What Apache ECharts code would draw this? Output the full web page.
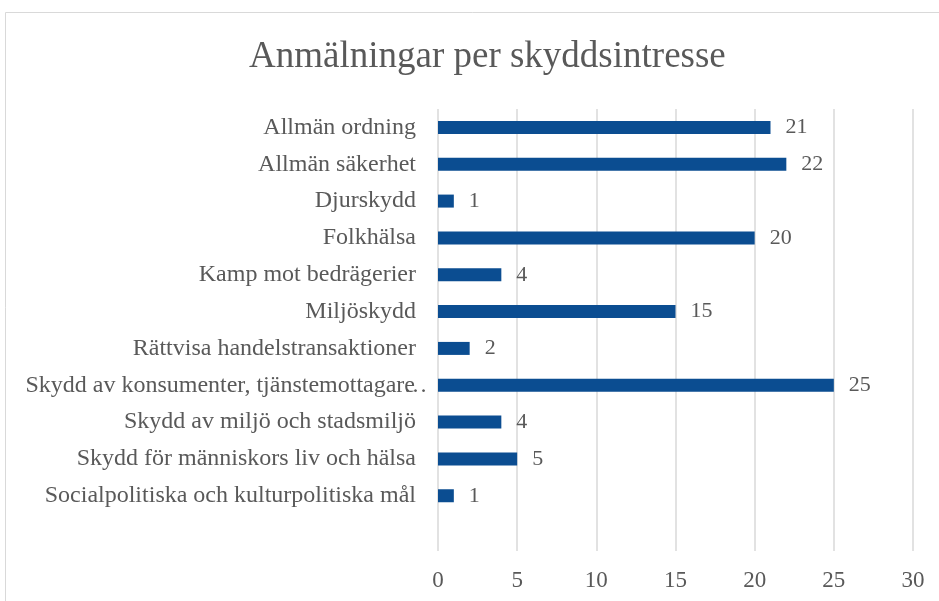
<!DOCTYPE html>
<html>
<head>
<meta charset="utf-8">
<script src="https://cdn.jsdelivr.net/npm/echarts@6/dist/echarts.min.js"></script>
<style>
  html, body { margin: 0; padding: 0; background: #fff; }
  #chart { width: 939px; height: 601px; }
</style>
</head>
<body>
<div id="chart"></div>
<script>
// categories, top to bottom (the last slot is empty in the original)
const categories = [
  'Allmän ordning',
  'Allmän säkerhet',
  'Djurskydd',
  'Folkhälsa',
  'Kamp mot bedrägerier',
  'Miljöskydd',
  'Rättvisa handelstransaktioner',
  'Skydd av konsumenter, tjänstemottagare…',
  'Skydd av miljö och stadsmiljö',
  'Skydd för människors liv och hälsa',
  'Socialpolitiska och kulturpolitiska mål',
  ''
]
const counts = [21, 22, 1, 20, 4, 15, 2, 25, 4, 5, 1, null]
const xTicks = [0, 5, 10, 15, 20, 25, 30]

const font = '"Liberation Serif", "Times New Roman", serif'
const chart = echarts.init(document.getElementById('chart'))

const labelText = { fontFamily: font, fontSize: 24, color: '#595959' }

const option = {
  animation: false,
  backgroundColor: '#fff',
  textStyle: { fontFamily: font },
  title: {
    text: 'Anmälningar per skyddsintresse',
    left: 244,
    top: 34,
    textStyle: { fontFamily: font, fontSize: 37, fontWeight: 'normal', color: '#595959' }
  },
  graphic: [{
    type: 'rect',
    shape: { x: 5.5, y: 12.5, width: 1000, height: 700 },
    style: { fill: 'none', stroke: '#d9d9d9', lineWidth: 1 },
    silent: true
  }],
  grid: { left: 438, right: 26, top: 109, bottom: 50 },
  xAxis: {
    type: 'value',
    min: xTicks[0],
    max: xTicks[xTicks.length - 1],
    interval: 5,
    axisLine: { show: false },
    axisTick: { show: false },
    splitLine: { lineStyle: { color: '#d9d9d9', width: 1.5 } },
    axisLabel: { fontFamily: font, fontSize: 23, color: '#595959', margin: 18 }
  },
  yAxis: {
    type: 'category',
    data: categories,
    inverse: true,
    axisLine: { show: false },
    axisTick: { show: false },
    axisLabel: {
      ...labelText,
      margin: 22,
      // truncated label: let the ellipsis spill past the label edge like Excel does
      formatter: (v) => v.endsWith('…') ? '{a|' + v.slice(0, -1) + '}{e|…}' : v,
      rich: {
        a: { ...labelText },
        e: { ...labelText, width: 1, align: 'left' }
      }
    }
  },
  series: [{
    type: 'bar',
    data: counts,
    barWidth: 13,
    itemStyle: { color: '#0b4d91' },
    label: {
      show: true,
      position: 'right',
      distance: 15,
      fontFamily: font,
      fontSize: 22,
      color: '#595959'
    }
  }]
}

chart.setOption(option)
</script>
</body>
</html>
